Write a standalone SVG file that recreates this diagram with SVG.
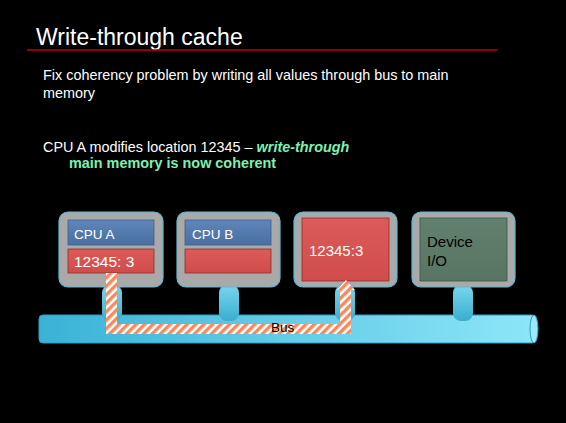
<svg xmlns="http://www.w3.org/2000/svg" width="566" height="423" viewBox="0 0 566 423">
  <defs>
    <style>
      text { font-family: "Liberation Sans", Arial, sans-serif; }
      .title { font-size: 23px; fill: #ffffff; }
      .body { font-size: 14.4px; fill: #ffffff; }
      .hl { font-size: 14.4px; fill: #7ef0b0; font-weight: bold; }
      .lbl { fill: #ffffff; }
      .lblk { font-size: 15px; fill: #000000; }
      .frame { fill: #a9a9a9; stroke: #5fb8d0; stroke-width: 1.2; }
      .cpu { fill: url(#gBlue); stroke: #3d5f8c; stroke-width: 0.8; }
      .cache { fill: url(#gRed); stroke: #8e2f2c; stroke-width: 0.8; }
      .dev { fill: url(#gGreen); stroke: #3c5646; stroke-width: 0.8; }
      .stem { fill: url(#gStem); }
    </style>
    <linearGradient id="gBlue" x1="0" y1="0" x2="0" y2="1">
      <stop offset="0" stop-color="#5f86bb"/>
      <stop offset="1" stop-color="#4a6e9f"/>
    </linearGradient>
    <linearGradient id="gRed" x1="0" y1="0" x2="0" y2="1">
      <stop offset="0" stop-color="#dc5b58"/>
      <stop offset="1" stop-color="#cf4c4a"/>
    </linearGradient>
    <linearGradient id="gGreen" x1="0" y1="0" x2="0" y2="1">
      <stop offset="0" stop-color="#62806e"/>
      <stop offset="1" stop-color="#587563"/>
    </linearGradient>
    <linearGradient id="gStem" x1="0" y1="0" x2="0" y2="1">
      <stop offset="0" stop-color="#78d6ee"/>
      <stop offset="1" stop-color="#3aaed0"/>
    </linearGradient>
    <linearGradient id="gBus" x1="0" y1="0" x2="1" y2="0">
      <stop offset="0" stop-color="#3ab2d6"/>
      <stop offset="1" stop-color="#8de6f8"/>
    </linearGradient>
    <pattern id="stripes" width="6" height="6" patternUnits="userSpaceOnUse" patternTransform="rotate(45)">
      <rect width="6" height="6" fill="#ffffff"/>
      <rect width="3.4" height="6" fill="#f58a5e"/>
    </pattern>
  </defs>

  <rect width="566" height="423" fill="#000000"/>

  <!-- heading -->
  <text class="title" x="36" y="45">Write-through cache</text>
  <line x1="27" y1="50" x2="497" y2="50" stroke="#c00000" stroke-width="1.5"/>

  <!-- body text -->
  <text class="body" x="43" y="80">Fix coherency problem by writing all values through bus to main</text>
  <text class="body" x="43" y="98">memory</text>
  <text class="body" x="43" y="152">CPU A modifies location 12345 – <tspan class="hl" font-style="italic">write-through</tspan></text>
  <text class="hl" x="69" y="168">main memory is now coherent</text>

  <!-- bus -->
  <g id="bus">
    <rect x="39" y="315" width="497" height="28" rx="4" fill="url(#gBus)" stroke="#2f9cc0" stroke-width="1"/>
    <ellipse cx="534" cy="329" rx="4" ry="14" fill="#9aeafa" stroke="#2f9cc0" stroke-width="1"/>
  </g>

  <!-- connectors: stems from each unit to the bus -->
  <g id="connectors">
    <rect class="stem" x="102" y="285" width="20" height="36" rx="8"/>
    <rect class="stem" x="219" y="285" width="20" height="36" rx="8"/>
    <rect class="stem" x="335" y="285" width="20" height="36" rx="8"/>
    <rect class="stem" x="453" y="285" width="20" height="36" rx="8"/>
  </g>

  <!-- CPU A -->
  <g id="cpu-a">
    <rect class="frame" x="59" y="212" width="104" height="75" rx="9"/>
    <rect class="cpu" x="68" y="220" width="86" height="25"/>
    <rect class="cache" x="68" y="249" width="86" height="24"/>
    <text class="lbl" x="74" y="239" style="font-size:13.5px">CPU A</text>
    <text class="lbl" x="74" y="267" style="font-size:15.5px">12345: 3</text>
  </g>

  <!-- CPU B -->
  <g id="cpu-b">
    <rect class="frame" x="177" y="212" width="103" height="75" rx="9"/>
    <rect class="cpu" x="185" y="220" width="86" height="25"/>
    <rect class="cache" x="185" y="249" width="86" height="24"/>
    <text class="lbl" x="192" y="239" style="font-size:13.5px">CPU B</text>
  </g>

  <!-- main memory -->
  <g id="memory">
    <rect class="frame" x="294" y="212" width="103" height="75" rx="9"/>
    <rect class="cache" x="302" y="218" width="87" height="63"/>
    <text class="lbl" x="309" y="256" style="font-size:15px">12345:3</text>
  </g>

  <!-- device I/O -->
  <g id="device-io">
    <rect class="frame" x="412" y="212" width="103" height="75" rx="9"/>
    <rect class="dev" x="420" y="218" width="87" height="63"/>
    <text class="lblk" x="427" y="247">Device</text>
    <text class="lblk" x="427" y="266">I/O</text>
  </g>

  <!-- write-through path over the bus -->
  <g id="write-path">
    <path d="M106,273 L117,273 L117,324 L340,324 L340,290 L337,290 L346,280 L355,290 L351,290 L351,334 L106,334 Z" fill="url(#stripes)"/>
    <text x="271" y="332" font-size="13.5" fill="#000000">Bus</text>
  </g>
</svg>
